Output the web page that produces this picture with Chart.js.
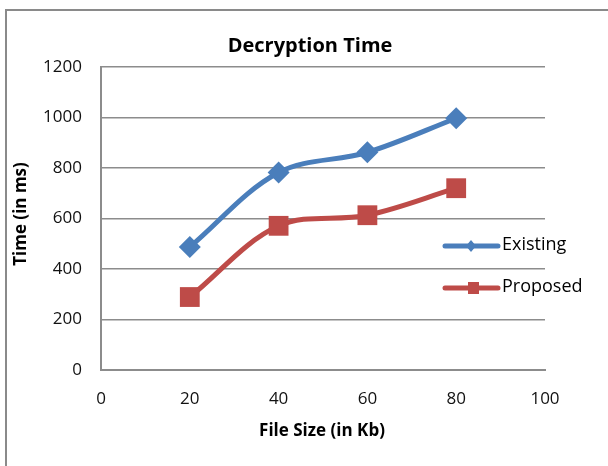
<!DOCTYPE html>
<html>
<head>
<meta charset="utf-8">
<script src="https://cdn.jsdelivr.net/npm/chart.js@4/dist/chart.umd.min.js"></script>
<style>
  html, body { margin: 0; padding: 0; background: #fff; }
  #wrap { position: relative; width: 608px; height: 466px; }
</style>
</head>
<body>
<div id="wrap"><canvas id="c" width="608" height="466"></canvas></div>
<script>
// File sizes (Kb) and decryption times (ms)
const fileSizes = [20, 40, 60, 80];
const existingTimes = [487, 782, 862, 997];
const proposedTimes = [289, 571, 613, 720];
const xTicks = [0, 20, 40, 60, 80, 100];
const yTicks = [0, 200, 400, 600, 800, 1000, 1200];

const chartTitle = 'Decryption Time';
const xTitle = 'File Size (in Kb)';
const yTitle = 'Time (in ms)';
const seriesNames = ['Existing', 'Proposed'];

const FONT = '"Open Sans", "Noto Sans", sans-serif';
const BLUE = '#4A7EBB';
const RED = '#BE4B48';
const GRID = '#8c8c8c';

const toPoints = (xs, ys) => xs.map((x, i) => ({ x, y: ys[i] }));

// Title, axis titles, frame and a line+marker legend
const decorations = {
  id: 'decorations',
  afterDraw(chart) {
    const ctx = chart.ctx;
    ctx.save();
    // outer frame (open to the right and bottom)
    ctx.strokeStyle = '#8a8a8a';
    ctx.lineWidth = 2;
    ctx.strokeRect(6, 10, 700, 700);

    ctx.fillStyle = '#000';
    ctx.textAlign = 'center';
    ctx.textBaseline = 'middle';
    ctx.font = 'bold 20px ' + FONT;
    ctx.fillText(chartTitle, 310, 46);

    ctx.font = 'bold 17px ' + FONT;
    ctx.fillText(xTitle, 322, 431);

    ctx.save();
    ctx.translate(21, 214);
    ctx.rotate(-Math.PI / 2);
    ctx.fillText(yTitle, 0, 0);
    ctx.restore();

    // legend
    const rows = [246, 288];
    chart.data.datasets.forEach((ds, i) => {
      const y = rows[i];
      ctx.strokeStyle = ds.borderColor;
      ctx.lineWidth = 5;
      ctx.lineCap = 'round';
      ctx.beginPath();
      ctx.moveTo(445, y);
      ctx.lineTo(498, y);
      ctx.stroke();
      ctx.fillStyle = ds.backgroundColor;
      if (ds.pointStyle === 'rectRot') {
        ctx.beginPath();
        ctx.moveTo(471, y - 6);
        ctx.lineTo(476, y);
        ctx.lineTo(471, y + 6);
        ctx.lineTo(466, y);
        ctx.closePath();
        ctx.fill();
      } else {
        ctx.fillRect(468, y - 6, 11, 12);
      }
      ctx.fillStyle = '#000';
      ctx.textAlign = 'left';
      ctx.font = '18px ' + FONT;
      ctx.fillText(ds.label, 502, y - 1);
    });
    ctx.restore();
  }
};

new Chart(document.getElementById('c'), {
  type: 'line',
  data: {
    datasets: [
      {
        label: seriesNames[0],
        data: toPoints(fileSizes, existingTimes),
        borderColor: BLUE,
        backgroundColor: BLUE,
        borderWidth: 5,
        tension: 0.35,
        pointStyle: 'rectRot',
        pointRadius: 11,
        pointBorderWidth: 0,
      },
      {
        label: seriesNames[1],
        data: toPoints(fileSizes, proposedTimes),
        borderColor: RED,
        backgroundColor: RED,
        borderWidth: 5,
        tension: 0.35,
        pointStyle: 'rect',
        pointRadius: 14,
        pointBorderWidth: 0,
      }
    ]
  },
  options: {
    responsive: false,
    animation: false,
    layout: { padding: { left: 0, top: 67, right: 63, bottom: 0 } },
    plugins: { legend: { display: false }, title: { display: false }, tooltip: { enabled: false } },
    scales: {
      x: {
        type: 'linear',
        min: 0, max: 100,
        afterBuildTicks: s => { s.ticks = xTicks.map(v => ({ value: v })); },
        afterFit: s => { s.height = 96; },
        grid: { display: false, drawTicks: false },
        border: { color: GRID, width: 2 },
        ticks: { color: '#111', font: { family: FONT, size: 17 }, padding: 19, callback: v => String(v) }
      },
      y: {
        min: 0, max: 1200,
        afterBuildTicks: s => { s.ticks = yTicks.map(v => ({ value: v })); },
        afterFit: s => { s.width = 101; },
        grid: { color: GRID, lineWidth: 1.5, drawTicks: false },
        border: { color: GRID, width: 2 },
        ticks: { color: '#111', font: { family: FONT, size: 17 }, padding: 19, callback: v => String(v) }
      }
    }
  },
  plugins: [decorations]
});
</script>
</body>
</html>
